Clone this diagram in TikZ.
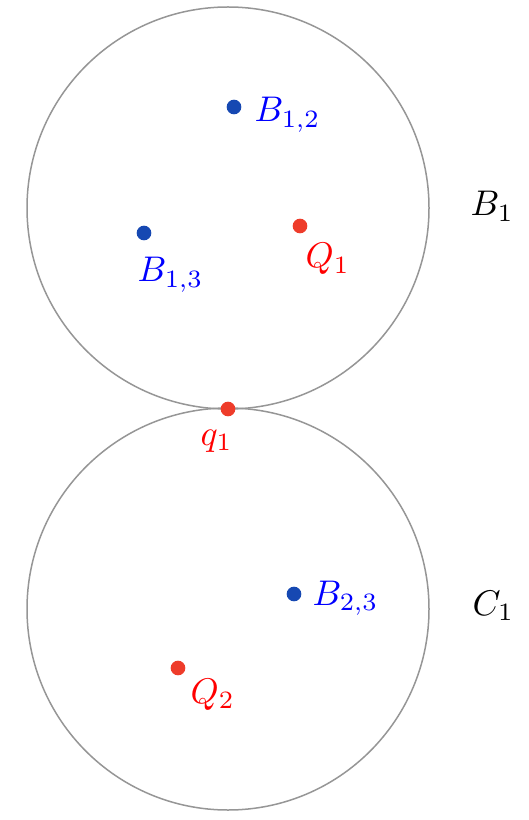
\documentclass[tikz,border=0pt]{standalone}
\begin{document}
\begin{tikzpicture}[x=0.3pt,y=-0.3pt,
  circ/.style={draw={rgb,255:red,150;green,150;blue,150},line width=0.45pt},
  bdot/.style={circle,fill={rgb,255:red,22;green,72;blue,178},inner sep=0pt,minimum size=4.4pt},
  rdot/.style={circle,fill={rgb,255:red,238;green,60;blue,42},inner sep=0pt,minimum size=4.4pt},
  blab/.style={text=blue,inner sep=0pt,anchor=base west,scale=1.07},
  rlab/.style={text=red,inner sep=0pt,anchor=base west,scale=1.07},
  klab/.style={text=black,inner sep=0pt,anchor=base west,scale=1.07}]
\useasboundingbox (0,0) rectangle (528,820);
\coordinate (c1) at (228,208);
\coordinate (c2) at (228,609);
\draw[circ] (c1) circle[radius=60.3pt];
\draw[circ] (c2) circle[radius=60.3pt];
\node[bdot] (b12) at (234,107) {};
\node[bdot] (b13) at (144,233) {};
\node[rdot] (q1d) at (300,226) {};
\node[rdot] (qq1) at (228,409) {};
\node[bdot] (b23) at (294,594) {};
\node[rdot] (q2d) at (178,668) {};
\node[blab] (lb12) at (254,122) {$B_{1,2}$};
\node[blab] (lb13) at (137,282) {$B_{1,3}$};
\node[rlab] (lq1) at (305,268) {$Q_1$};
\node[rlab] (lqq1) at (200,445) {$q_1$};
\node[blab] (lb23) at (312,605) {$B_{2,3}$};
\node[rlab] (lq2) at (190,703) {$Q_2$};
\node[klab] (lB1) at (470,216) {$B_1$};
\node[klab] (lC1) at (472,615) {$C_1$};
\end{tikzpicture}
\end{document}
